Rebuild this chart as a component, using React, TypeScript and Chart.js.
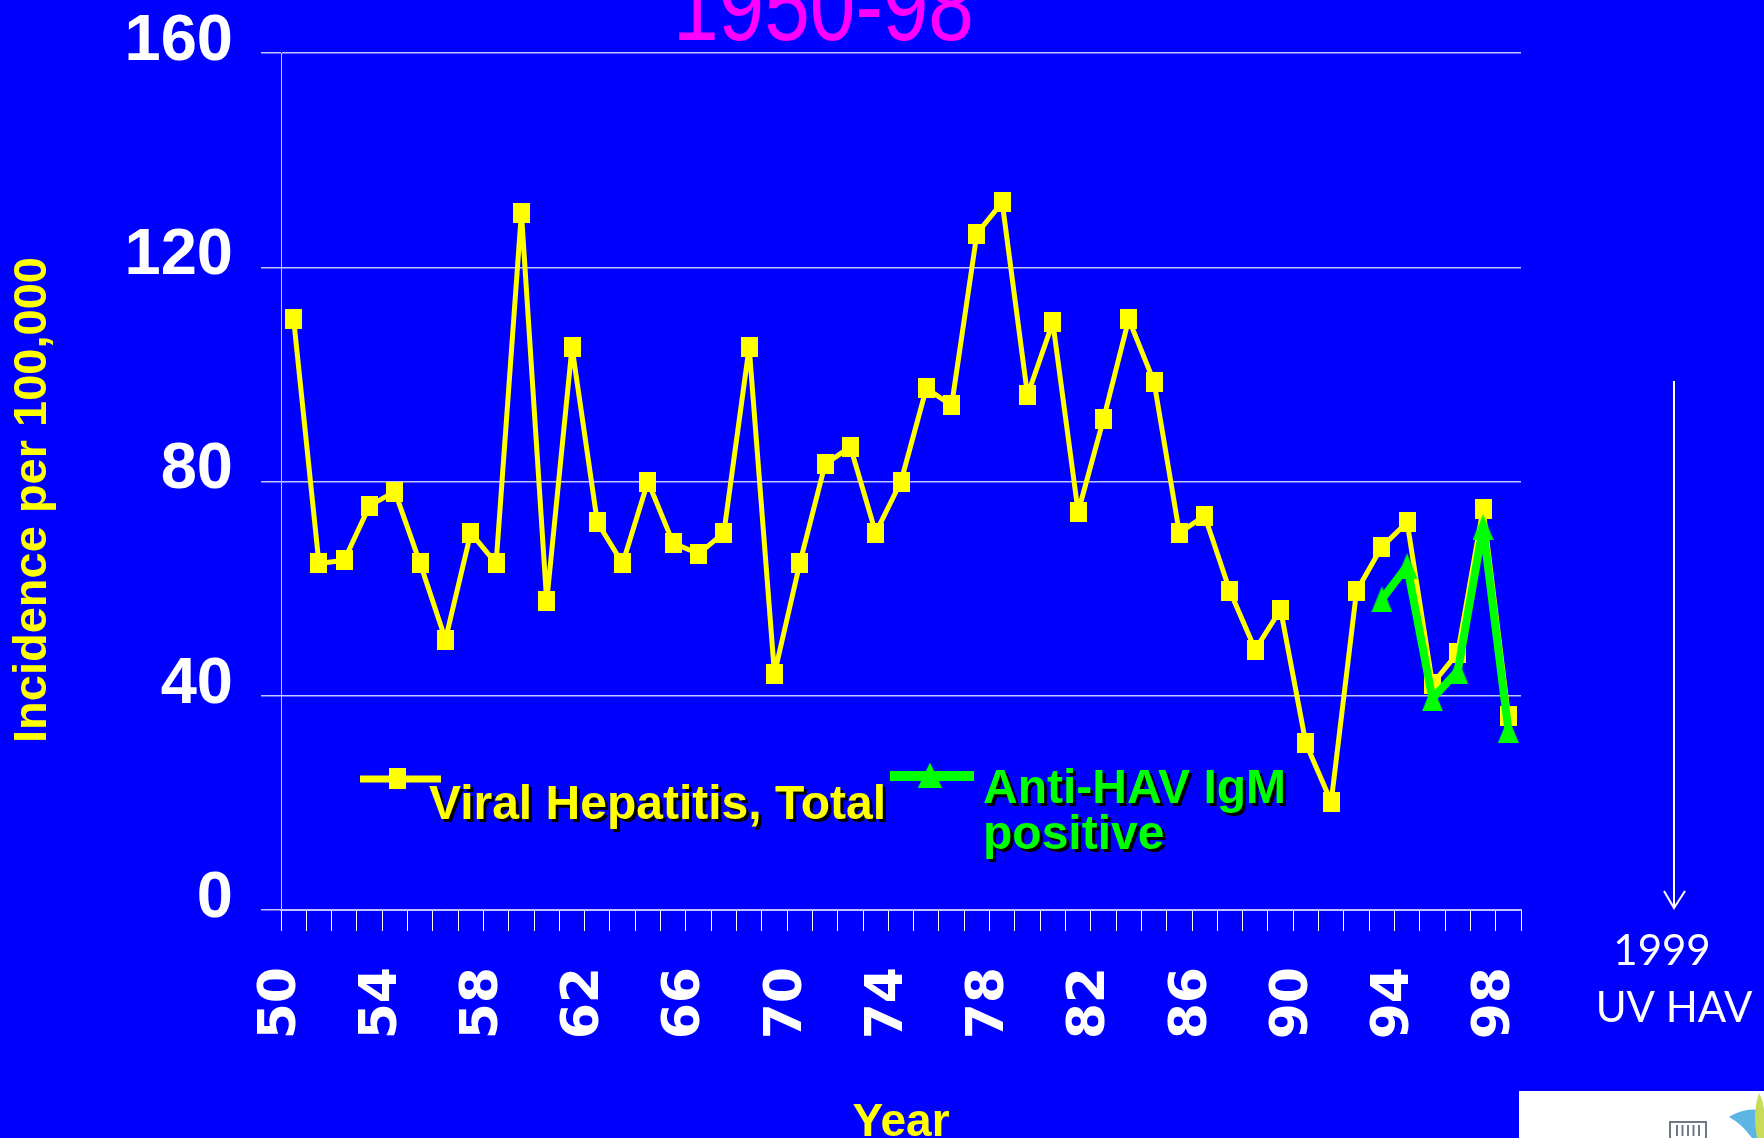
import React, { useEffect, useRef } from 'react';
import { Chart, registerables } from 'chart.js';

Chart.register(...registerables);

// ---------- data ----------
const years = [
  1950, 1951, 1952, 1953, 1954, 1955, 1956, 1957, 1958, 1959,
  1960, 1961, 1962, 1963, 1964, 1965, 1966, 1967, 1968, 1969,
  1970, 1971, 1972, 1973, 1974, 1975, 1976, 1977, 1978, 1979,
  1980, 1981, 1982, 1983, 1984, 1985, 1986, 1987, 1988, 1989,
  1990, 1991, 1992, 1993, 1994, 1995, 1996, 1997, 1998,
];
const totalIncidence = [
  110.3, 64.7, 65.3, 75.5, 78.1, 64.7, 50.5, 70.4, 64.7, 130.2,
  57.6, 105.1, 72.4, 64.7, 80.0, 68.5, 66.5, 70.4, 105.1, 44.1,
  64.7, 83.2, 86.5, 70.4, 80.0, 97.4, 94.2, 126.3, 132.1, 96.1,
  109.7, 74.3, 91.6, 110.3, 98.6, 70.4, 73.6, 59.5, 48.6, 56.1,
  31.1, 20.2, 59.5, 67.8, 72.4, 42.2, 48.0, 74.9, 36.3,
];
const igmYears = [1993, 1994, 1995, 1996, 1997, 1998];
const igmIncidence = [58.0, 64.2, 39.5, 44.6, 71.5, 33.6];
const yMin = 0;
const yMax = 160;
const yStep = 40;
const labelEvery = 4;
const seriesNames = ['Viral Hepatitis, Total', 'Anti-HAV IgM', 'positive'];
const titleText = '1950-98';
const xTitle = 'Year';
const yTitle = 'Incidence per 100,000';
const noteLines = ['1999', 'UV HAV'];

// ---------- layout ----------
const W = 1764;
const H = 1138;
const PLOT = { left: 281, right: 1521, top: 53, bottom: 910 };
const BLUE = '#0000ff';
const YELLOW = '#ffff00';
const GREEN = '#00ff00';
const GRID = '#c4c4ff';
const SANS = "'Liberation Sans', Arial, sans-serif";

function makeSquare(w: number, h: number, color: string) {
  const c = document.createElement('canvas');
  c.width = w;
  c.height = h;
  const g = c.getContext('2d')!;
  g.fillStyle = color;
  g.fillRect(0, 0, w, h);
  return c;
}

function makeTriangle(w: number, h: number, color: string) {
  const c = document.createElement('canvas');
  c.width = w;
  c.height = h;
  const g = c.getContext('2d')!;
  g.fillStyle = color;
  g.beginPath();
  g.moveTo(w / 2, 0);
  g.lineTo(w, h);
  g.lineTo(0, h);
  g.closePath();
  g.fill();
  return c;
}

function noScalePadding(s: any) {
  s.paddingTop = 0;
  s.paddingBottom = 0;
  s.paddingLeft = 0;
  s.paddingRight = 0;
}

export default function App() {
  const ref = useRef<HTMLCanvasElement>(null);

  useEffect(() => {
    const canvas = ref.current;
    if (!canvas) return;

    const square = makeSquare(17, 20, YELLOW);
    const triangle = makeTriangle(21, 26, GREEN);
    const legendSquare = makeSquare(17, 21, YELLOW);
    const legendTriangle = makeTriangle(24, 25, GREEN);

    const igmSeries = years.map((y) => {
      const i = igmYears.indexOf(y);
      return i >= 0 ? igmIncidence[i] : null;
    });

    const halfCat = (PLOT.right - PLOT.left) / years.length / 2;

    const annotations = {
      id: 'slideAnnotations',
      afterDraw(chart: any) {
        const ctx = chart.ctx as CanvasRenderingContext2D;
        ctx.save();

        // partial slide title (condensed face)
        ctx.save();
        ctx.fillStyle = '#ff00ff';
        ctx.font = `100px ${SANS}`;
        ctx.textAlign = 'left';
        ctx.textBaseline = 'alphabetic';
        ctx.translate(673, 40);
        ctx.scale(0.82, 1);
        ctx.fillText(titleText, 0, 0);
        ctx.restore();

        // y-axis title
        ctx.save();
        ctx.fillStyle = YELLOW;
        ctx.font = `bold 47px ${SANS}`;
        ctx.textAlign = 'center';
        ctx.textBaseline = 'middle';
        ctx.translate(33.5, 500);
        ctx.rotate(-Math.PI / 2);
        ctx.fillText(yTitle, 0, 0);
        ctx.restore();

        // legend samples
        ctx.lineCap = 'butt';
        ctx.strokeStyle = YELLOW;
        ctx.lineWidth = 7;
        ctx.beginPath();
        ctx.moveTo(360, 779);
        ctx.lineTo(441, 779);
        ctx.stroke();
        ctx.drawImage(legendSquare, 397.5 - legendSquare.width / 2, 778 - legendSquare.height / 2);

        ctx.strokeStyle = GREEN;
        ctx.lineWidth = 10;
        ctx.beginPath();
        ctx.moveTo(890, 776);
        ctx.lineTo(974, 776);
        ctx.stroke();
        ctx.drawImage(legendTriangle, 930 - legendTriangle.width / 2, 775 - legendTriangle.height / 2);

        // legend texts with shadow
        ctx.textAlign = 'left';
        ctx.textBaseline = 'alphabetic';
        ctx.shadowColor = '#000000';
        ctx.shadowOffsetX = 3;
        ctx.shadowOffsetY = 3;
        ctx.shadowBlur = 0;
        ctx.font = `bold 48px ${SANS}`;
        ctx.fillStyle = YELLOW;
        ctx.fillText(seriesNames[0], 429, 819);
        ctx.fillStyle = GREEN;
        ctx.fillText(seriesNames[1], 983, 803);
        ctx.fillText(seriesNames[2], 983, 849);
        ctx.shadowColor = 'transparent';
        ctx.shadowOffsetX = 0;
        ctx.shadowOffsetY = 0;

        // arrow
        ctx.strokeStyle = '#ffffff';
        ctx.lineWidth = 2;
        ctx.beginPath();
        ctx.moveTo(1674, 381);
        ctx.lineTo(1674, 907);
        ctx.stroke();
        ctx.beginPath();
        ctx.moveTo(1664, 891);
        ctx.lineTo(1674, 908);
        ctx.lineTo(1685, 891);
        ctx.stroke();

        // note text
        ctx.fillStyle = '#ffffff';
        ctx.font = `42px Lato, 'Open Sans', sans-serif`;
        ctx.textAlign = 'center';
        ctx.fillText(noteLines[0], 1662, 965);
        ctx.fillText(noteLines[1], 1674, 1022);

        // logo box
        ctx.fillStyle = '#ffffff';
        ctx.fillRect(1519, 1091, W - 1519, H - 1091);
        ctx.strokeStyle = '#6f7a88';
        ctx.lineWidth = 2;
        ctx.strokeRect(1670, 1122, 36, 20);
        ctx.beginPath();
        for (let i = 0; i < 5; i++) {
          ctx.moveTo(1677 + i * 5.5, 1125);
          ctx.lineTo(1677 + i * 5.5, 1136);
        }
        ctx.stroke();
        ctx.fillStyle = '#5cb6e4';
        ctx.beginPath();
        ctx.moveTo(1729, 1117);
        ctx.quadraticCurveTo(1746, 1106, 1764, 1111);
        ctx.lineTo(1764, 1138);
        ctx.lineTo(1752, 1138);
        ctx.quadraticCurveTo(1742, 1124, 1729, 1117);
        ctx.fill();
        ctx.fillStyle = '#c8dc5a';
        ctx.beginPath();
        ctx.moveTo(1757, 1138);
        ctx.quadraticCurveTo(1752, 1112, 1759, 1093);
        ctx.quadraticCurveTo(1764, 1102, 1764, 1112);
        ctx.lineTo(1764, 1138);
        ctx.fill();

        ctx.restore();
      },
    };

    const chart = new Chart(canvas, {
      type: 'line',
      data: {
        labels: years.map(String),
        datasets: [
          {
            label: seriesNames[0],
            data: totalIncidence,
            borderColor: YELLOW,
            backgroundColor: YELLOW,
            borderWidth: 5,
            borderJoinStyle: 'round',
            pointStyle: square as any,
            pointRadius: 10,
            tension: 0,
            order: 1,
          },
          {
            label: seriesNames[1] + ' ' + seriesNames[2],
            data: igmSeries,
            borderColor: GREEN,
            backgroundColor: GREEN,
            borderWidth: 8,
            borderJoinStyle: 'round',
            pointStyle: triangle as any,
            pointRadius: 12,
            tension: 0,
            spanGaps: false,
            order: 0,
          },
        ],
      },
      options: {
        responsive: false,
        animation: false,
        devicePixelRatio: 1,
        layout: { padding: { left: 0, top: PLOT.top, right: W - PLOT.right, bottom: 0 } },
        plugins: {
          legend: { display: false },
          tooltip: { enabled: false },
          title: { display: false },
        },
        scales: {
          x: {
            type: 'category',
            offset: true,
            grid: {
              display: true,
              offset: true,
              drawOnChartArea: false,
              drawTicks: true,
              tickLength: 21,
              tickColor: '#ffffff',
              tickWidth: 1,
            },
            border: { display: true, color: GRID, width: 2 },
            ticks: {
              autoSkip: false,
              maxRotation: 90,
              minRotation: 90,
              padding: 36,
              labelOffset: -halfCat,
              color: '#ffffff',
              font: { family: "'DejaVu Sans', sans-serif", size: 52, weight: 'bold' },
              callback: (_v: any, i: number) => (i % labelEvery === 0 ? String(years[i] % 100) : ''),
            },
            title: {
              display: true,
              text: xTitle,
              color: YELLOW,
              font: { family: SANS, size: 46, weight: 'bold' },
              padding: { top: 0, bottom: -13 },
            },
            afterFit: (s: any) => {
              s.height = H - PLOT.bottom;
              noScalePadding(s);
            },
          },
          y: {
            min: yMin,
            max: yMax,
            ticks: {
              stepSize: yStep,
              color: '#ffffff',
              padding: 28,
              labelOffset: -11,
              font: { family: SANS, size: 65, weight: 'bold' },
            },
            grid: {
              color: GRID,
              lineWidth: 1.5,
              drawTicks: true,
              tickLength: 20,
              tickColor: GRID,
            },
            border: { display: true, color: GRID, width: 1 },
            title: { display: false, text: yTitle },
            afterFit: (s: any) => {
              s.width = PLOT.left;
              noScalePadding(s);
            },
          },
        },
      } as any,
      plugins: [annotations],
    });

    return () => chart.destroy();
  }, []);

  return (
    <div
      style={{
        position: 'absolute',
        left: 0,
        top: 0,
        width: W,
        height: H,
        background: BLUE,
        overflow: 'hidden',
      }}
    >
      <canvas ref={ref} width={W} height={H} style={{ display: 'block', width: W, height: H }} />
    </div>
  );
}
